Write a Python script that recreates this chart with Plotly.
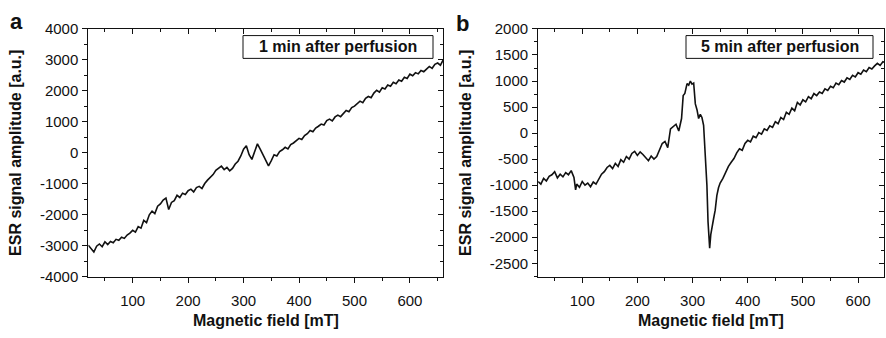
import plotly.graph_objects as go

# ---------------- data ----------------
field_a = list(range(20, 661, 5))
signal_a = [
    -2980, -3090, -3200, -3010, -2940, -3030, -2870, -2960, -2860, -2900,
    -2790, -2820, -2720, -2760, -2650, -2590, -2500, -2560, -2380, -2430,
    -2180, -2250, -2000, -1880, -1960, -1720, -1650, -1520, -1460, -1830,
    -1600, -1540, -1370, -1440, -1300, -1340, -1220, -1170, -1260, -1120,
    -1080, -1150, -990, -880, -800, -700, -560, -480, -430, -540,
    -470, -580, -500, -360, -270, -100, 120, 230, -60, -210,
    60, 290, 120, -60, -250, -420, -250, -60, -100, 40,
    100, 180, 130, 270, 320, 390, 470, 430, 560, 620,
    720, 680, 800, 860, 930, 900, 1040, 1090, 1030, 1160,
    1220, 1170, 1280, 1370, 1330, 1460, 1510, 1600, 1670, 1620,
    1760, 1820, 1780, 1930, 2020, 1960, 2100, 2060, 2190, 2150,
    2280, 2230, 2350, 2310, 2440, 2400, 2540, 2490, 2590, 2550,
    2660, 2620, 2720, 2790, 2730, 2860, 2900, 2830, 3000,
]

field_b = [
    20, 25, 30, 35, 40, 45, 50, 55, 60, 65, 70, 75, 80, 85, 88, 90, 95, 100,
    105, 110, 115, 120, 125, 130, 135, 140, 145, 150, 155, 160, 165, 170,
    175, 180, 185, 190, 195, 200, 205, 210, 215, 220, 225, 230, 235, 240,
    245, 250, 255, 260, 265, 270, 275, 280, 283, 286, 290, 293, 296, 299,
    302, 305, 308, 311, 314, 317, 320, 323, 326, 328, 330, 331, 333, 335,
    338, 341, 344, 347, 350, 355, 360, 365, 370, 375, 380, 385, 390, 395,
    400, 405, 410, 415, 420, 425, 430, 435, 440, 445, 450, 455, 460, 465,
    470, 475, 480, 485, 490, 495, 500, 505, 510, 515, 520, 525, 530, 535,
    540, 545, 550, 555, 560, 565, 570, 575, 580, 585, 590, 595, 600, 605,
    610, 615, 620, 625, 630, 635, 640, 645, 650,
]
signal_b = [
    -930, -980, -870, -920, -830, -800, -740, -860, -790, -840, -760, -800,
    -720, -850, -1090, -980, -1040, -930, -1000, -960, -1030, -940, -980,
    -880, -790, -740, -660, -620, -680, -580, -640, -510, -560, -450, -500,
    -390, -350, -430, -360, -410, -470, -530, -440, -500, -450, -330, -200,
    -160, -280, 80, 120, 170, 40, 280, 720, 760, 950, 920, 1000, 940, 960,
    560, 450, 280, 360, 300, 150, -350, -1000, -1700, -2050, -2210, -1950,
    -1800, -1650, -1480, -1200, -1050, -960, -870, -750, -640, -560, -490,
    -380, -300, -330, -200, -140, -170, -60, -90, 10, -20, 80, 50, 140, 110,
    220, 180, 300, 260, 400, 360, 480, 430, 590, 540, 640, 600, 700, 660,
    760, 720, 790, 760, 850, 820, 900, 870, 960, 930, 1010, 980, 1060, 1030,
    1110, 1080, 1160, 1130, 1210, 1180, 1260, 1230, 1290, 1340, 1300, 1370,
    1350,
]

x_ticks = [100, 200, 300, 400, 500, 600]
x_labels = ["100", "200", "300", "400", "500", "600"]
ya_ticks = [-4000, -3000, -2000, -1000, 0, 1000, 2000, 3000, 4000]
ya_labels = ["-4000", "-3000", "-2000", "-1000", "0", "1000", "2000", "3000", "4000"]
yb_ticks = [-2500, -2000, -1500, -1000, -500, 0, 500, 1000, 1500, 2000]
yb_labels = ["-2500", "-2000", "-1500", "-1000", "-500", "0", "500", "1000", "1500", "2000"]

xa_range = [20, 660]
xb_range = [20, 647]
ya_range = [-4000, 4000]
yb_range = [-2760, 2000]

x_title = "Magnetic field [mT]"
y_title = "ESR signal amplitude [a.u.]"
label_a = "1 min after perfusion"
label_b = "5 min after perfusion"

# ---------------- figure ----------------
W, H = 886, 338
FONT = "Liberation Sans, Arial, sans-serif"
INK = "#111111"

def px_x(p):
    return p / W

def px_y(p):
    return 1 - p / H

dom_y = [px_y(282), px_y(21)]
dom_xa = [px_x(88.3), px_x(443.2)]
dom_xb = [px_x(538.1), px_x(884)]

fig = go.Figure()
fig.add_trace(go.Scatter(x=field_a, y=signal_a, mode="lines",
                         line=dict(color=INK, width=1.6), xaxis="x", yaxis="y",
                         showlegend=False))
fig.add_trace(go.Scatter(x=field_b, y=signal_b, mode="lines",
                         line=dict(color=INK, width=1.6), xaxis="x2", yaxis="y2",
                         showlegend=False))

# invisible helper traces: they create twin subplots whose top/right axes carry
# the inward-pointing mirror ticks
for xa, ya, xr, yr in [("x3", "y3", xa_range, ya_range), ("x4", "y4", xb_range, yb_range)]:
    fig.add_trace(go.Scatter(x=[xr[0]], y=[yr[0]], mode="markers",
                             marker=dict(opacity=0, size=1), hoverinfo="skip",
                             xaxis=xa, yaxis=ya, showlegend=False))

tickfont = dict(family=FONT, size=15, color=INK)
TW = 1.3

def base_x(dom, rng, anchor):
    return dict(domain=dom, range=rng, anchor=anchor, showline=True, linecolor=INK,
                linewidth=1, mirror=True, ticks="outside", ticklen=5, tickwidth=TW,
                tickcolor=INK, tickvals=x_ticks, ticktext=x_labels, tickfont=tickfont,
                showgrid=False, zeroline=False, ticklabelstandoff=5,
                minor=dict(dtick=50, tick0=0, ticks="outside", ticklen=3, tickwidth=TW,
                           tickcolor=INK, showgrid=False))

def base_y(dom, rng, anchor, tv, tt, minor_dt):
    return dict(domain=dom, range=rng, anchor=anchor, showline=True, linecolor=INK,
                linewidth=1, mirror=True, ticks="outside", ticklen=5, tickwidth=TW,
                tickcolor=INK, tickvals=tv, ticktext=tt, tickfont=tickfont,
                showgrid=False, zeroline=False, ticklabelstandoff=1,
                minor=dict(dtick=minor_dt, tick0=0, ticks="outside", ticklen=3,
                           tickwidth=TW, tickcolor=INK, showgrid=False))

def mirror_x(dom, rng, anchor):
    return dict(domain=dom, range=rng, anchor=anchor, side="top",
                ticks="inside", ticklen=5, tickwidth=TW, tickcolor=INK, tickvals=x_ticks,
                showticklabels=False, showgrid=False, zeroline=False, showline=False,
                minor=dict(dtick=50, tick0=0, ticks="inside", ticklen=3, tickwidth=TW,
                           tickcolor=INK, showgrid=False))

def mirror_y(dom, rng, anchor, tv, minor_dt):
    return dict(domain=dom, range=rng, anchor=anchor, side="right",
                ticks="inside", ticklen=5, tickwidth=TW, tickcolor=INK, tickvals=tv,
                showticklabels=False, showgrid=False, zeroline=False, showline=False,
                minor=dict(dtick=minor_dt, tick0=0, ticks="inside", ticklen=3,
                           tickwidth=TW, tickcolor=INK, showgrid=False))

fig.update_layout(
    width=W, height=H, autosize=False,
    margin=dict(l=0, r=0, t=0, b=0),
    paper_bgcolor="white", plot_bgcolor="rgba(0,0,0,0)",
    xaxis=base_x(dom_xa, xa_range, "y"),
    yaxis=base_y(dom_y, ya_range, "x", ya_ticks, ya_labels, 500),
    xaxis2=base_x(dom_xb, xb_range, "y2"),
    yaxis2=base_y(dom_y, yb_range, "x2", yb_ticks, yb_labels, 250),
    xaxis3=mirror_x(dom_xa, xa_range, "y3"),
    yaxis3=mirror_y(dom_y, ya_range, "x3", ya_ticks, 500),
    xaxis4=mirror_x(dom_xb, xb_range, "y4"),
    yaxis4=mirror_y(dom_y, yb_range, "x4", yb_ticks, 250),
)

title_font = dict(family=FONT, size=16, color=INK, weight="bold")
ann = []
for cx in [(88.3 + 443.2) / 2, (538.1 + 884) / 2]:
    ann.append(dict(xref="paper", yref="paper", x=px_x(cx), y=px_y(328),
                    text=x_title, showarrow=False, font=title_font,
                    xanchor="center", yanchor="middle"))
for cx in [16, 466]:
    ann.append(dict(xref="paper", yref="paper", x=px_x(cx), y=px_y(151.5),
                    text=y_title, showarrow=False, font=title_font, textangle=-90,
                    xanchor="center", yanchor="middle"))
letter_font = dict(family=FONT, size=22, color=INK, weight="bold")
ann.append(dict(xref="paper", yref="paper", x=px_x(16.5), y=px_y(13), text="a",
                showarrow=False, font=letter_font, xanchor="center", yanchor="middle"))
ann.append(dict(xref="paper", yref="paper", x=px_x(462.5), y=px_y(15), text="b",
                showarrow=False, font=letter_font, xanchor="center", yanchor="middle"))

shapes = []
for (x0, x1, txt) in [(243, 433, label_a), (686, 873, label_b)]:
    shapes.append(dict(type="rect", xref="paper", yref="paper",
                       x0=px_x(x0), x1=px_x(x1), y0=px_y(52), y1=px_y(28),
                       line=dict(color=INK, width=1), fillcolor="white"))
    ann.append(dict(xref="paper", yref="paper", x=px_x((x0 + x1) / 2), y=px_y(40),
                    text=txt, showarrow=False,
                    font=dict(family=FONT, size=16, color=INK, weight="bold"),
                    xanchor="center", yanchor="middle"))

fig.update_layout(annotations=ann, shapes=shapes)
fig.write_html("out.html")
